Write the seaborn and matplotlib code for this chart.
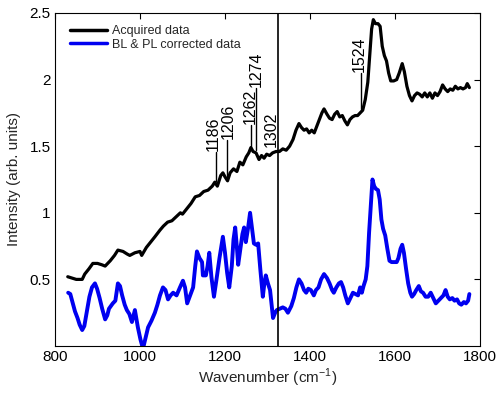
import numpy as np
import pandas as pd
import matplotlib
matplotlib.use("Agg")
import matplotlib.pyplot as plt
import seaborn as sns

# ---- data ----
acq_wn = [830, 840, 850, 864, 870, 880, 889, 900, 910, 918, 930, 940, 948, 960, 970, 976, 988, 1000, 1004,
          1015, 1025, 1035, 1047, 1055, 1065, 1075, 1085, 1095, 1100, 1110, 1120, 1130, 1140, 1150, 1160, 1170,
          1176, 1182, 1190, 1195, 1200, 1206, 1212, 1220, 1228, 1235, 1242, 1250, 1256, 1261, 1266, 1273, 1280,
          1286, 1292, 1298, 1305, 1312, 1320, 1328, 1336, 1344, 1352, 1360, 1367, 1374, 1380, 1386, 1392, 1398,
          1404, 1410, 1416, 1422, 1428, 1433, 1440, 1446, 1452, 1458, 1464, 1470, 1476, 1482, 1488, 1494, 1500,
          1506, 1512, 1518, 1524, 1530, 1536, 1541, 1545, 1549, 1554, 1560, 1565, 1570, 1575, 1580, 1585, 1590,
          1597, 1604, 1610, 1617, 1622, 1628, 1634, 1640, 1646, 1652, 1658, 1664, 1670, 1676, 1682, 1688, 1694,
          1700, 1706, 1712, 1718, 1724, 1730, 1736, 1742, 1748, 1754, 1760, 1766, 1770, 1775]
acq_val = [0.52, 0.51, 0.50, 0.50, 0.54, 0.58, 0.62, 0.62, 0.61, 0.60, 0.64, 0.68, 0.72, 0.71, 0.69, 0.68, 0.70,
           0.71, 0.68, 0.74, 0.78, 0.82, 0.87, 0.90, 0.93, 0.94, 0.97, 1.00, 0.99, 1.03, 1.07, 1.12, 1.13, 1.16,
           1.17, 1.20, 1.23, 1.20, 1.28, 1.30, 1.27, 1.24, 1.30, 1.33, 1.31, 1.38, 1.36, 1.42, 1.45, 1.49, 1.46,
           1.45, 1.40, 1.43, 1.41, 1.44, 1.43, 1.45, 1.46, 1.46, 1.48, 1.47, 1.50, 1.55, 1.62, 1.67, 1.64, 1.62,
           1.63, 1.60, 1.62, 1.60, 1.65, 1.70, 1.75, 1.78, 1.74, 1.71, 1.70, 1.74, 1.76, 1.72, 1.73, 1.69, 1.66,
           1.70, 1.72, 1.73, 1.73, 1.75, 1.77, 1.85, 1.98, 2.20, 2.38, 2.45, 2.42, 2.42, 2.40, 2.25, 2.18, 2.14,
           2.05, 1.99, 1.99, 2.00, 2.05, 2.12, 2.06, 1.95, 1.88, 1.84, 1.88, 1.90, 1.89, 1.87, 1.90, 1.87, 1.90,
           1.86, 1.90, 1.88, 1.91, 1.96, 1.93, 1.91, 1.93, 1.92, 1.95, 1.93, 1.94, 1.93, 1.94, 1.97, 1.94]

corr_wn = [831, 836, 841, 847, 853, 858, 864, 869, 875, 881, 887, 894, 899, 905, 911, 918, 923, 927, 936, 942,
           948, 953, 958, 964, 969, 975, 981, 988, 995, 1001, 1007, 1013, 1019, 1027, 1035, 1041, 1047, 1054,
           1060, 1066, 1072, 1078, 1086, 1094, 1101, 1106, 1111, 1118, 1125, 1130, 1134, 1140, 1146, 1148, 1155,
           1159, 1163, 1168, 1174, 1180, 1187, 1195, 1200, 1205, 1210, 1216, 1220, 1224, 1228, 1231, 1237, 1241,
           1245, 1249, 1254, 1259, 1263, 1268, 1273, 1278, 1283, 1289, 1293, 1296, 1301, 1306, 1310, 1313, 1318,
           1322, 1329, 1336, 1342, 1348, 1356, 1362, 1368, 1374, 1380, 1386, 1391, 1396, 1402, 1409, 1414, 1420,
           1426, 1433, 1440, 1446, 1452, 1456, 1462, 1468, 1473, 1478, 1483, 1489, 1495, 1501, 1507, 1513, 1518,
           1522, 1526, 1531, 1535, 1539, 1543, 1547, 1551, 1555, 1560, 1564, 1568, 1572, 1577, 1582, 1587, 1592,
           1598, 1604, 1608, 1613, 1617, 1621, 1626, 1631, 1636, 1640, 1645, 1650, 1656, 1661, 1666, 1672, 1678,
           1684, 1690, 1696, 1702, 1708, 1714, 1719, 1724, 1729, 1735, 1740, 1746, 1751, 1756, 1762, 1767, 1772,
           1775]
corr_val = [0.40, 0.39, 0.33, 0.26, 0.21, 0.16, 0.12, 0.15, 0.26, 0.37, 0.44, 0.47, 0.43, 0.36, 0.28, 0.20, 0.23,
            0.28, 0.32, 0.34, 0.47, 0.45, 0.38, 0.31, 0.27, 0.24, 0.18, 0.27, 0.14, 0.05, -0.02, 0.06, 0.14, 0.19,
            0.25, 0.31, 0.38, 0.44, 0.42, 0.35, 0.38, 0.40, 0.38, 0.44, 0.49, 0.44, 0.32, 0.38, 0.44, 0.60, 0.71,
            0.66, 0.63, 0.53, 0.53, 0.60, 0.70, 0.52, 0.37, 0.50, 0.66, 0.82, 0.70, 0.55, 0.44, 0.60, 0.80, 0.89,
            0.74, 0.61, 0.75, 0.84, 0.89, 0.78, 0.88, 1.00, 0.90, 0.77, 0.76, 0.77, 0.58, 0.37, 0.48, 0.53, 0.47,
            0.42, 0.30, 0.21, 0.25, 0.27, 0.28, 0.29, 0.28, 0.25, 0.30, 0.36, 0.44, 0.50, 0.47, 0.42, 0.40, 0.43,
            0.42, 0.38, 0.42, 0.44, 0.50, 0.54, 0.51, 0.47, 0.42, 0.40, 0.44, 0.47, 0.48, 0.44, 0.38, 0.32, 0.36,
            0.40, 0.39, 0.38, 0.44, 0.40, 0.45, 0.50, 0.60, 0.85, 1.05, 1.25, 1.20, 1.18, 1.17, 1.10, 0.95, 0.88,
            0.83, 0.73, 0.64, 0.63, 0.63, 0.63, 0.66, 0.73, 0.76, 0.70, 0.58, 0.47, 0.40, 0.37, 0.39, 0.42, 0.45,
            0.41, 0.40, 0.37, 0.37, 0.40, 0.36, 0.32, 0.34, 0.36, 0.38, 0.42, 0.37, 0.35, 0.36, 0.34, 0.35, 0.32,
            0.31, 0.33, 0.32, 0.34, 0.39]

series_names = ["Acquired data", "BL & PL corrected data"]
peak_labels = [1186, 1206, 1262, 1274, 1302, 1524]
divider_wn = 1325
x_ticks = [800, 1000, 1200, 1400, 1600, 1800]
y_ticks = [0.5, 1, 1.5, 2, 2.5]
y_tick_labels = ["0.5", "1", "1.5", "2", "2.5"]

# ---- build long table ----
df = pd.concat([
    pd.DataFrame({"wn": acq_wn, "val": acq_val, "series": series_names[0]}),
    pd.DataFrame({"wn": corr_wn, "val": corr_val, "series": series_names[1]}),
], ignore_index=True)

sns.set_theme(style="white")
plt.rcParams["font.family"] = ["Liberation Sans", "DejaVu Sans"]
plt.rcParams["mathtext.fontset"] = "custom"
plt.rcParams["mathtext.rm"] = "Liberation Sans"

fig = plt.figure(figsize=(5.01, 3.96), dpi=100)
ax = fig.add_axes([55 / 501, 1 - 346 / 396, (480 - 55) / 501, (346 - 13) / 396])

sns.lineplot(data=df, x="wn", y="val", hue="series", palette=["black", "#0000f0"],
             linewidth=2.3, ax=ax, sort=False, estimator=None)
ax.lines[1].set_linewidth(2.8)

ax.axvline(divider_wn, color="black", linewidth=1.2)

# peak annotations: (stem x shift, text x shift, stem bottom offset, text bottom y)
style = {1186: (-7, -14, 0.02, 1.46), 1206: (-1, 1, 0.02, 1.55), 1262: (0, -2, 0.02, 1.66),
         1274: (-1, -1, 0.02, 1.94), 1302: (None, 6, 0.0, 1.49), 1524: (-4, -8, 0.02, 2.05)}
for p in peak_labels:
    dx_line, dx_text, lo, top = style[p]
    if dx_line is not None:
        xl = p + dx_line
        yv = np.interp(xl, acq_wn, acq_val)
        ax.plot([xl, xl], [yv + lo, top], color="black", linewidth=1.0)
    ax.text(p + dx_text, top + 0.005, str(p), rotation=90, ha="center", va="bottom",
            fontsize=11.5, color="black")

ax.set_xlim(800, 1800)
ax.set_ylim(0, 2.5)
ax.set_xticks(x_ticks)
ax.set_xticklabels([str(t) for t in x_ticks])
ax.set_yticks(y_ticks)
ax.set_yticklabels(y_tick_labels)
ax.tick_params(direction="in", length=4, width=0.8, top=True, right=True,
               labelsize=11, colors="black", pad=3)
for s in ax.spines.values():
    s.set_color("black")
    s.set_linewidth(0.8)

ax.set_xlabel("Wavenumber (cm$^{-1}$)", fontsize=11, labelpad=2)
ax.set_ylabel("Intensity (arb. units)", fontsize=11, labelpad=6)

leg = ax.legend(loc="upper left", bbox_to_anchor=(0.0235, 0.979), borderaxespad=0,
                frameon=True, fontsize=9, handlelength=3.0, labelspacing=0.15,
                handletextpad=0.4, borderpad=0.4)
leg.get_frame().set_edgecolor("white")
leg.get_frame().set_facecolor("white")
leg.get_frame().set_alpha(1)
for h in leg.get_lines():
    h.set_linewidth(2.5)

fig.savefig("out.png", dpi=100)
